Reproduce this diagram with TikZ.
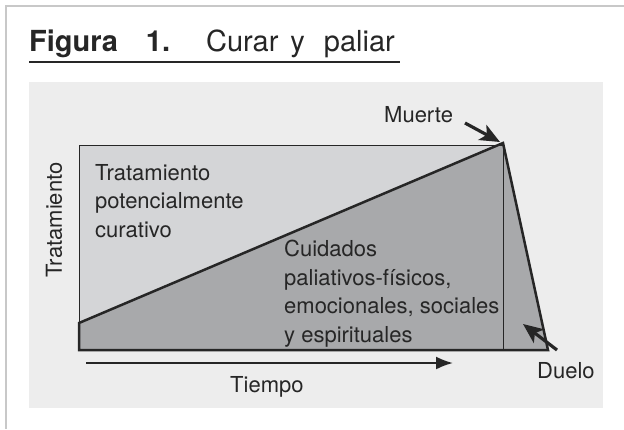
\documentclass[tikz,border=0pt]{standalone}
\usepackage{fontspec}
\setmainfont{TeX Gyre Heros}
\usetikzlibrary{arrows.meta}

\definecolor{panelgray}{HTML}{EDEDED}
\definecolor{curegray}{HTML}{D4D5D7}
\definecolor{caregray}{HTML}{A8A9AB}
\definecolor{framegray}{HTML}{C8C8C8}
\definecolor{inkgray}{HTML}{262626}

\begin{document}
\begin{tikzpicture}[x=1pt,y=-1pt,
    lbl/.style={inner sep=0pt,text=inkgray,font=\fontsize{22}{28.5}\selectfont},
    pointer/.style={line width=3.2pt,draw=inkgray,-{Stealth[length=20pt,width=17pt,inset=5pt]}},
    timeline/.style={line width=2pt,draw=inkgray,-{Latex[length=17pt,width=13pt]}},
    thinedge/.style={line width=1pt,draw=inkgray},
    thickedge/.style={line width=2.5pt,draw=inkgray,line join=miter}]
      \useasboundingbox (0,0) rectangle (624,429);
      \draw[framegray,line width=2pt] (624,6) -- (6,6) -- (6,429);
      % title
      \node[anchor=base west,inner sep=0pt,text=inkgray,font=\fontsize{29}{29}\selectfont] (titulo) at (29,51)
        {\textbf{Figura\hspace{28pt}1.}\hspace{36pt}Curar\hspace{12pt}y\hspace{19pt}paliar};
      \draw[inkgray,line width=1.3pt] (29,62) -- (400,62);
      % panel and areas
      \fill[panelgray] (29,82) rectangle (603,408);
      \coordinate (inicio) at (79,323);
      \coordinate (peak) at (503,143);
      \coordinate (grief) at (548,350);
      \coordinate (origen) at (79,350);
      \fill[curegray] (79,145) rectangle (503,350);
      \fill[caregray] (inicio) -- (peak) -- (grief) -- (origen) -- cycle;
      \draw[thinedge] (inicio) -- (79,145) -- (503,145) -- (503,350);
      \draw[thickedge] (inicio) -- (peak) -- (grief) -- (origen) -- cycle;
      % labels (base of a multi-line node is its last line)
      \node[lbl,rotate=90] (eje) at (54,220) {Tratamiento};
      \node[lbl,anchor=base west,align=left] (curativo) at (95,237) {Tratamiento\\potencialmente\\curativo};
      \node[lbl,anchor=base west,align=left] (paliativo) at (284,342) {Cuidados\\paliativos-físicos,\\emocionales, sociales\\y espirituales};
      \node[lbl,anchor=base west] (muerte) at (384,122) {Muerte};
      \node[lbl,anchor=base west] (duelo) at (537,378) {Duelo};
      \node[lbl,anchor=base west] (tiempo) at (230,392) {Tiempo};
      % arrows
      \coordinate (muerteTail) at (465,123);
      \coordinate (dueloTail) at (557,350);
      \coordinate (dueloTip) at (523,324);
      \coordinate (tiempoStart) at (86,363);
      \coordinate (tiempoEnd) at (453,363);
      \draw[pointer] (muerteTail) -- ([xshift=-3pt,yshift=1pt]peak);
      \draw[pointer] (dueloTail) -- (dueloTip);
      \draw[timeline] (tiempoStart) -- (tiempoEnd);
    \end{tikzpicture}
\end{document}
